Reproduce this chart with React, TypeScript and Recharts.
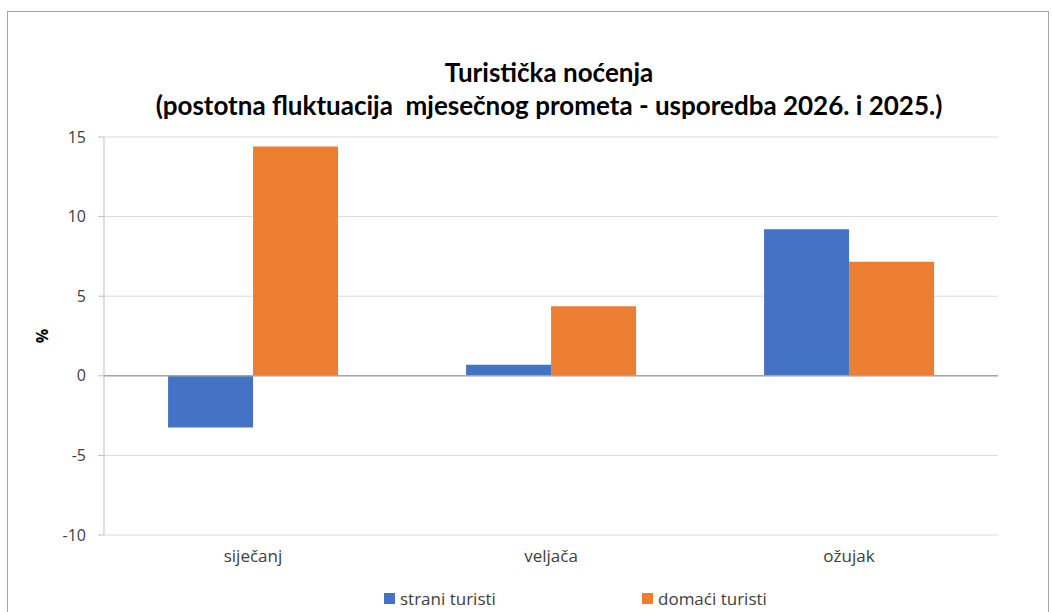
import { BarChart, Bar, XAxis, YAxis, CartesianGrid, Legend, ReferenceLine } from "recharts";

const months = ["siječanj", "veljača", "ožujak"];
const strani = [-3.25, 0.69, 9.2];
const domaci = [14.41, 4.37, 7.16];
const yTicks = [-10, -5, 0, 5, 10, 15];

const seriesNames = { strani: "strani turisti", domaci: "domaći turisti" };
const colors = { strani: "#4472C4", domaci: "#ED7D31" };

const data = months.map((m, i) => ({ name: m, strani: strani[i], domaci: domaci[i] }));

const renderLegend = () => (
  <div style={{ position: "relative", height: 26, fontFamily: "'Open Sans', sans-serif", fontSize: 17, color: "#404040" }}>
    {(["strani", "domaci"] as const).map((k, i) => (
      <div
        key={k}
        style={{ position: "absolute", left: i === 0 ? 376 : 634, top: 2, display: "flex", alignItems: "center" }}
      >
        <span style={{ display: "inline-block", width: 11, height: 11, background: colors[k], marginRight: 5 }} />
        <span>{seriesNames[k]}</span>
      </div>
    ))}
  </div>
);

const App = () => {
  return (
    <div
      style={{
        position: "absolute",
        left: 7,
        top: 11,
        width: 1040,
        height: 620,
        boxSizing: "content-box",
        borderLeft: "1px solid #a6a6a6",
        borderRight: "1px solid #a6a6a6",
        borderTop: "1px solid #a6a6a6",
        borderBottom: "1px solid #a6a6a6",
        background: "#fff",
      }}
    >
      <div
        style={{
          position: "absolute",
          left: 0,
          width: 1082,
          top: 44,
          textAlign: "center",
          fontFamily: "Lato, sans-serif",
          fontWeight: 700,
          fontSize: 26,
          lineHeight: "33px",
          color: "#000",
        }}
      >
        <div>Turistička noćenja</div>
        <div style={{ whiteSpace: "pre" }}>(postotna fluktuacija  mjesečnog prometa - usporedba 2026. i 2025.)</div>
      </div>
      <BarChart
        width={1040}
        height={612}
        data={data}
        margin={{ top: 125, right: 50, bottom: 13, left: 0 }}
        barCategoryGap="21.5%"
        barGap={0}
      >
        <CartesianGrid vertical={false} stroke="#d9d9d9" />
        <XAxis
          dataKey="name"
          axisLine={false}
          tickLine={false}
          tickSize={0}
          tickMargin={15}
          height={50}
          tick={{ fill: "#404040", fontSize: 17, fontFamily: "'Open Sans', sans-serif" }}
        />
        <YAxis
          width={96}
          domain={[-10, 15]}
          ticks={yTicks}
          interval={0}
          stroke="#bfbfbf"
          tickSize={6}
          tickMargin={12}
          tick={{ fill: "#404040", fontSize: 16, fontFamily: "'Open Sans', sans-serif" }}
          label={{
            content: () => (
              <text
                x={34}
                y={324}
                transform="rotate(-90 34 324)"
                textAnchor="middle"
                dominantBaseline="central"
                fontFamily="'Open Sans', sans-serif"
                fontWeight={700}
                fontSize={16}
                fill="#000"
              >
                %
              </text>
            ),
          }}
        />
        <ReferenceLine y={0} stroke="#a6a6a6" strokeWidth={1.5} />
        <Legend verticalAlign="bottom" height={26} content={renderLegend} />
        <Bar dataKey="strani" name={seriesNames.strani} fill={colors.strani} isAnimationActive={false} />
        <Bar dataKey="domaci" name={seriesNames.domaci} fill={colors.domaci} isAnimationActive={false} />
      </BarChart>
    </div>
  );
};

export default App;
